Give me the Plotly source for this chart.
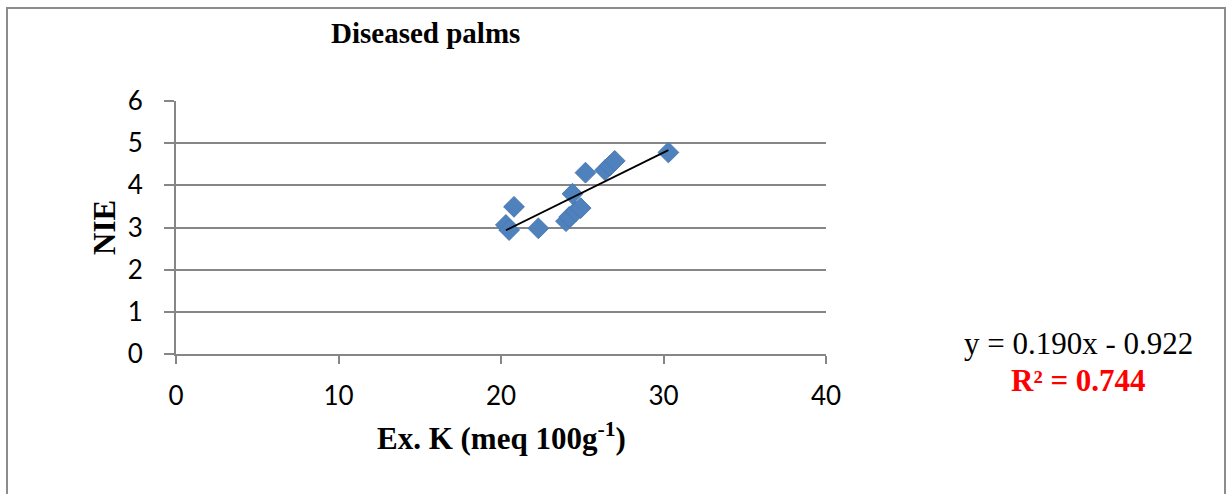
import plotly.graph_objects as go

# Data
ex_k = [20.3, 20.5, 20.8, 22.3, 24.0, 24.2, 24.4, 24.6, 24.9, 25.2, 26.4, 26.7, 27.0, 30.3]
nie = [3.06, 2.94, 3.49, 2.98, 3.15, 3.25, 3.80, 3.38, 3.46, 4.30, 4.36, 4.47, 4.58, 4.78]
slope = 0.190
intercept = -0.922
r2 = 0.744
x_ticks = [0, 10, 20, 30, 40]
y_ticks = [0, 1, 2, 3, 4, 5, 6]

W, H = 1229, 494
L, R, T, B = 176, 826, 101, 354


def px(x):
    return (x - L) / (R - L)


def py(y):
    return (B - y) / (B - T)


x_line = [min(ex_k), max(ex_k)]
y_line = [slope * v + intercept for v in x_line]

fig = go.Figure()
fig.add_trace(go.Scatter(
    x=ex_k, y=nie, mode="markers",
    marker=dict(symbol="diamond", size=16, color="#4f81bd",
                line=dict(color="#4a7ab3", width=1)),
    showlegend=False, cliponaxis=False))
fig.add_trace(go.Scatter(
    x=x_line, y=y_line, mode="lines",
    line=dict(color="black", width=1.8), showlegend=False))

serif = "Liberation Serif, Times New Roman, serif"
sans = "Lato, Open Sans, sans-serif"

fig.update_layout(
    width=W, height=H,
    margin=dict(l=L, r=W - R, t=T, b=H - B),
    paper_bgcolor="white", plot_bgcolor="white",
    xaxis=dict(range=[0, 40], tickvals=x_ticks, showgrid=False,
               showline=True, linecolor="#868686", linewidth=2,
               ticks="outside", ticklen=8, tickcolor="#868686", tickwidth=2,
               tickfont=dict(family=sans, size=26, color="black"),
               ticklabelstandoff=10, zeroline=False, fixedrange=True),
    yaxis=dict(range=[0, 6], tickvals=y_ticks, showgrid=True,
               gridcolor="#868686", gridwidth=2,
               showline=True, linecolor="#868686", linewidth=2,
               ticks="outside", ticklen=10, tickcolor="#868686", tickwidth=2,
               tickfont=dict(family=sans, size=26, color="black"),
               ticklabelstandoff=16, zeroline=False, fixedrange=True),
    shapes=[dict(type="rect", xref="paper", yref="paper",
                 x0=px(7), x1=px(1225), y0=py(540), y1=py(8),
                 line=dict(color="#8c8c8c", width=2), layer="below")],
    annotations=[
        dict(text="<b>Diseased palms</b>", xref="paper", yref="paper",
             x=px(425), y=py(33), showarrow=False, xanchor="center", yanchor="middle",
             font=dict(family=serif, size=29, color="black")),
        dict(text="<b>NIE</b>", xref="paper", yref="paper", textangle=-90,
             x=px(104), y=py(228), showarrow=False, xanchor="center", yanchor="middle",
             font=dict(family=serif, size=31, color="black")),
        dict(text="<b>Ex. K (meq 100g<sup>-1</sup>)</b>", xref="paper", yref="paper",
             x=px(501), y=py(436), showarrow=False, xanchor="center", yanchor="middle",
             font=dict(family=serif, size=31, color="black")),
        dict(text=f"y = {slope:.3f}x - {abs(intercept):.3f}", xref="paper", yref="paper",
             x=px(1078), y=py(343), showarrow=False, xanchor="center", yanchor="middle",
             font=dict(family=serif, size=31, color="black")),
        dict(text=f"<b>R² = {r2:.3f}</b>", xref="paper", yref="paper",
             x=px(1078), y=py(380), showarrow=False, xanchor="center", yanchor="middle",
             font=dict(family=serif, size=31, color="red")),
    ],
)

fig.write_html(
    "out.html",
    config={"displayModeBar": False},
    post_script="document.body.style.margin='0';document.body.style.overflow='hidden';",
)
